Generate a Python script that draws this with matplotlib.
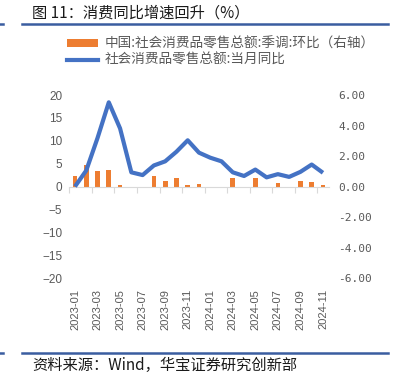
import numpy as np
import matplotlib
matplotlib.use('Agg')
import matplotlib.pyplot as plt
from matplotlib.lines import Line2D
from matplotlib.patches import Patch

plt.rcParams['font.family'] = ['Noto Sans CJK SC', 'DejaVu Sans']

# data
months = ['2023-01', '2023-02', '2023-03', '2023-04', '2023-05', '2023-06',
          '2023-07', '2023-08', '2023-09', '2023-10', '2023-11', '2023-12',
          '2024-01', '2024-02', '2024-03', '2024-04', '2024-05', '2024-06',
          '2024-07', '2024-08', '2024-09', '2024-10', '2024-11']
yoy = [0.0, 3.5, 10.6, 18.4, 12.7, 3.1, 2.5, 4.6, 5.5, 7.6, 10.1, 7.4,
       6.3, 5.5, 3.1, 2.3, 3.7, 2.0, 2.7, 2.1, 3.2, 4.8, 3.0]
mom = [0.68, 1.38, 1.00, 1.05, 0.13, 0.0, -0.05, 0.72, 0.33, 0.53, 0.13, 0.15,
       -0.10, -0.03, 0.53, 0.0, 0.53, 0.0, 0.26, 0.0, 0.33, 0.30, 0.13]
left_ticks = [-20, -15, -10, -5, 0, 5, 10, 15, 20]
right_ticks = [-6, -4, -2, 0, 2, 4, 6]

BLUE = '#4472C4'
ORANGE = '#ED7D31'
GRAY = '#595959'
RULE = '#3A5DA0'

fig = plt.figure(figsize=(3.94, 3.84), dpi=100)
ax = fig.add_axes([0.176, 0.276, 0.658, 0.4766])
ax2 = ax.twinx()

x = np.arange(len(months))

# bars on the right axis, line on the left axis (line drawn on top)
ax2.bar(x, mom, width=0.42, color=ORANGE, zorder=2)
ax.set_zorder(ax2.get_zorder() + 1)
ax.patch.set_visible(False)
ax.plot(x, yoy, color=BLUE, linewidth=3, solid_capstyle='butt', zorder=3)

ax.set_xlim(-0.5, len(months) - 0.5)
ax.set_ylim(-20, 20)
ax2.set_ylim(-6, 6)

for a in (ax, ax2):
    for s in a.spines.values():
        s.set_visible(False)

ax.set_yticks(left_ticks)
ax.set_yticklabels([str(v).replace('-', '\u2212') for v in left_ticks],
                   family='Liberation Sans', fontsize=8.5, color=GRAY)
ax.tick_params(axis='y', length=0, pad=5)

ax2.set_yticks(right_ticks)
ax2.set_yticklabels(['%.2f' % v for v in right_ticks],
                    family='DejaVu Sans Mono', fontsize=8, color=GRAY)
ax2.tick_params(axis='y', length=0, pad=7)

ax.set_xticks(x[::2])
ax.set_xticklabels(months[::2], rotation=90, family='Liberation Sans',
                   fontsize=8, color=GRAY)
ax.tick_params(axis='x', length=0, pad=8)

# zero axis line with tick marks between category pairs
zero_ax = ax.secondary_xaxis(0.5)
zero_ax.spines['bottom'].set_color('#D9D9D9')
zero_ax.spines['top'].set_color('#D9D9D9')
zero_ax.set_xticks(np.arange(-0.5, len(months) - 1, 2))
zero_ax.xaxis.set_ticks_position('bottom')
zero_ax.set_xticklabels([])
zero_ax.tick_params(axis='x', length=4, color='#D9D9D9', direction='out')

handles = [Patch(facecolor=ORANGE, edgecolor='none'),
           Line2D([0], [0], color=BLUE, linewidth=3)]
labels = ['中国:社会消费品零售总额:季调:环比（右轴）', '社会消费品零售总额:当月同比']
fig.legend(handles, labels, loc='upper left', bbox_to_anchor=(0.155, 0.918),
           frameon=False, fontsize=9.8, handlelength=2.3, handleheight=0.5,
           handletextpad=0.5, labelspacing=0.15, labelcolor=GRAY,
           borderaxespad=0)

# title and source with the blue rules
fig.text(0.081, 0.966, '图 11：消费同比增速回升（%）', fontsize=11,
         color='#1a1a1a', va='center')
fig.text(0.081, 0.047, '资料来源：Wind，华宝证券研究创新部', fontsize=11,
         color='#1a1a1a', va='center')
for yy in (0.938, 0.081):
    fig.add_artist(Line2D([0.057, 0.985], [yy, yy], color=RULE, linewidth=1.8))
    fig.add_artist(Line2D([0.0, 0.008], [yy, yy], color=RULE, linewidth=1.8))

fig.savefig('out.png', dpi=100)
